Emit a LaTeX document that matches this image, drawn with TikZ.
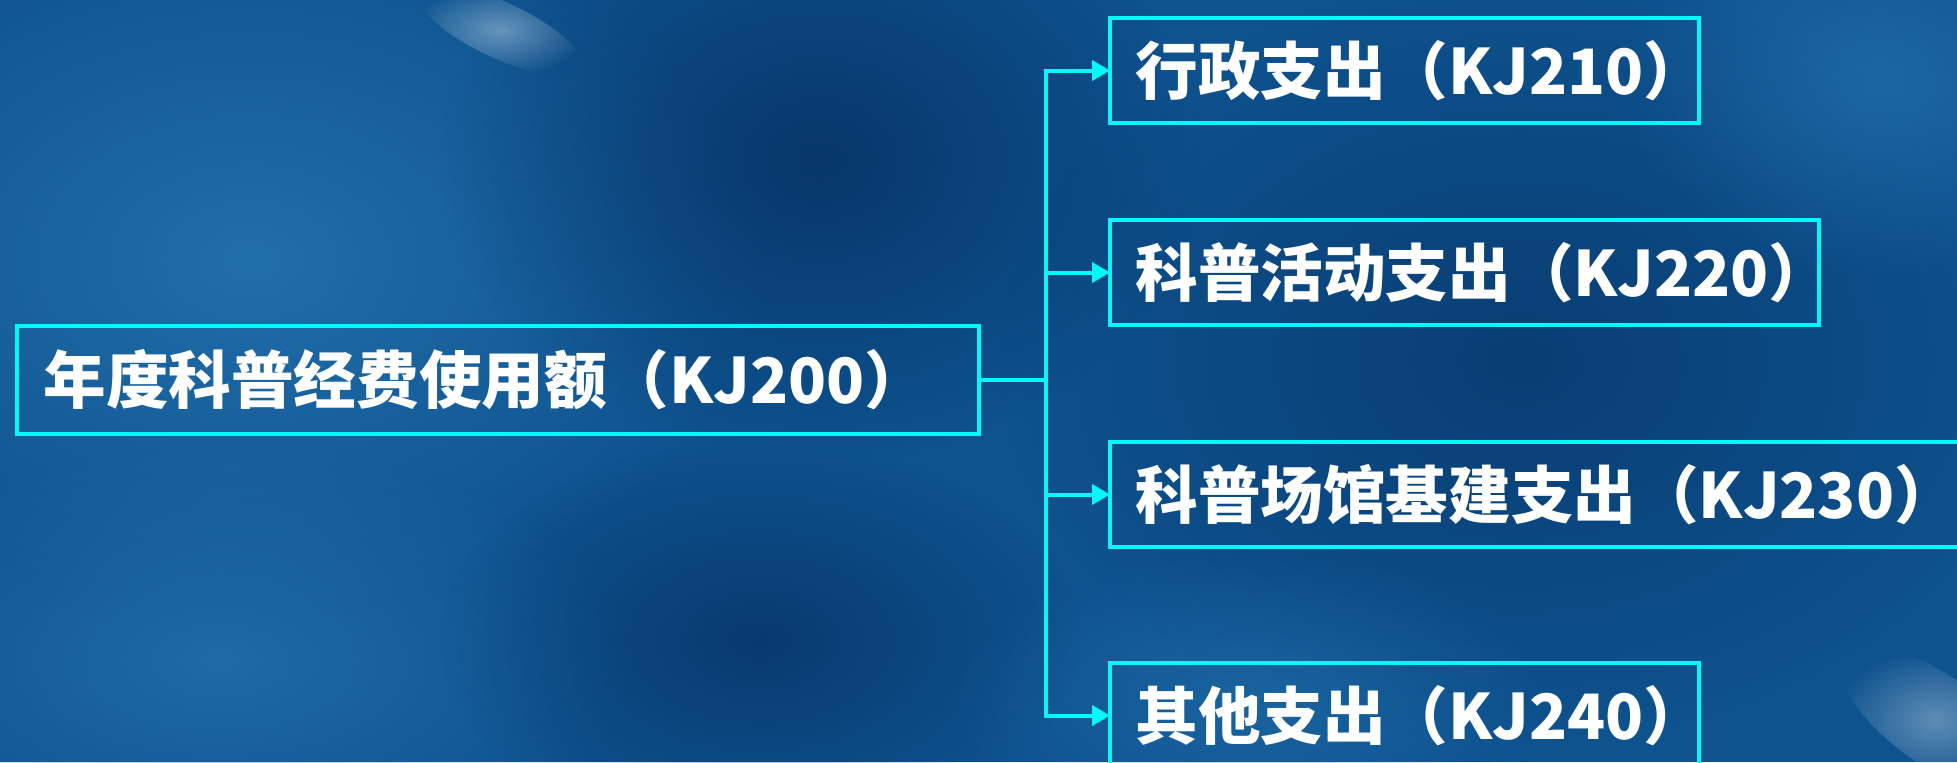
\documentclass[tikz,border=0pt]{standalone}
\usepackage{fontspec}
\newfontfamily\cjk{Noto Sans CJK SC}
\usetikzlibrary{arrows.meta,fadings}
\definecolor{bgblue}{RGB}{14,82,142}
\definecolor{bglight}{RGB}{38,118,178}
\definecolor{bgdark}{RGB}{6,48,98}
\definecolor{streak}{RGB}{160,190,215}
\definecolor{boxcyan}{RGB}{0,250,250}
\tikzfading[name=softblob, inner color=transparent!0, outer color=transparent!100]
\begin{document}
\begin{tikzpicture}[x=0.5pt,y=-0.5pt,
  boxframe/.style={draw=boxcyan, line width=2pt, anchor=north west, inner sep=0pt},
  label/.style={anchor=west, inner sep=0pt, text=white, font=\cjk\bfseries\fontsize{31.3pt}{38pt}\selectfont},
  link/.style={draw=boxcyan, line width=2pt},
  arrowlink/.style={link, -{Triangle[length=9pt,width=10pt]}, shorten >=-1pt},
  blob/.style={path fading=softblob}]
% background
\clip (0,0) rectangle (1957,762);
\fill[bgblue] (0,0) rectangle (1957,762);
\fill[bglight, blob, opacity=0.8] (250,260) ellipse (520 and 360);
\fill[bglight, blob, opacity=0.7] (220,660) ellipse (420 and 220);
\fill[bgdark, blob, opacity=0.8] (820,160) ellipse (380 and 300);
\fill[bgdark, blob, opacity=0.7] (760,640) ellipse (320 and 200);
\fill[bgdark, blob, opacity=0.6] (1520,360) ellipse (520 and 380);
\fill[bglight, blob, opacity=0.6] (1880,80) ellipse (260 and 200);
\fill[bglight, blob, opacity=0.5] (1250,700) ellipse (300 and 150);
\fill[streak, blob, opacity=0.6, rotate around={-25:(500,30)}] (500,30) ellipse (90 and 28);
\fill[streak, blob, opacity=0.55, rotate around={-35:(1935,720)}] (1935,720) ellipse (110 and 45);
% boxes
\node[boxframe, minimum width=481pt, minimum height=54pt] (main) at (15,324) {};
\node[boxframe, minimum width=294.5pt, minimum height=52.5pt] (b1) at (1108,16) {};
\node[boxframe, minimum width=354.5pt, minimum height=52.5pt] (b2) at (1108,218) {};
\node[boxframe, minimum width=450pt, minimum height=52.5pt] (b3) at (1108,440) {};
\node[boxframe, minimum width=294.5pt, minimum height=52.5pt] (b4) at (1108,661) {};
% labels
\node[label] (tmain) at ([xshift=14pt]main.west) {年度科普经费使用额（KJ200）};
\node[label] (t1) at ([xshift=13.5pt]b1.west) {行政支出（KJ210）};
\node[label] (t2) at ([xshift=13.5pt]b2.west) {科普活动支出（KJ220）};
\node[label] (t3) at ([xshift=13.5pt]b3.west) {科普场馆基建支出（KJ230）};
\node[label] (t4) at ([xshift=13.5pt]b4.west) {其他支出（KJ240）};
% connectors
\coordinate (j) at ([xshift=32.5pt]main.east);
\draw[link] (main.east) -- (j);
\draw[link, line cap=rect] (j |- b1.west) -- (j |- b4.west);
\draw[arrowlink] (j |- b1.west) -- (b1.west);
\draw[arrowlink] (j |- b2.west) -- (b2.west);
\draw[arrowlink] (j |- b3.west) -- (b3.west);
\draw[arrowlink] (j |- b4.west) -- (b4.west);
\end{tikzpicture}
\end{document}
